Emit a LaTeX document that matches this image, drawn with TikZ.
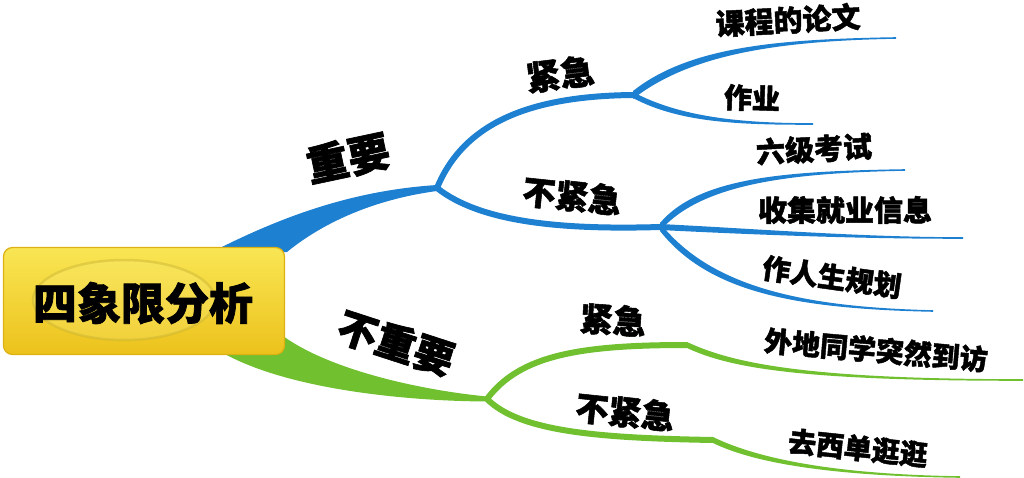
\documentclass[tikz,border=0pt]{standalone}
\usepackage{fontspec}
\setmainfont{Noto Sans CJK SC Bold}[FakeBold=1.6]
\definecolor{mblue}{RGB}{30,128,208}
\definecolor{mgreen}{RGB}{112,192,48}
\definecolor{ytop}{RGB}{249,230,84}
\definecolor{ybot}{RGB}{236,194,28}
\definecolor{boxedge}{RGB}{222,176,18}
\definecolor{ring}{RGB}{200,178,50}
\newcommand\taperline[6]{%
  \fill ([yshift=#5]#1) .. controls ([yshift=#5]#2) and ([yshift=#6]#3) .. ([yshift=#6]#4)
     -- ([yshift=-#6]#4) .. controls ([yshift=-#6]#3) and ([yshift=-#5]#2) .. ([yshift=-#5]#1) -- cycle;}
\tikzset{
  lbl/.style={font=\fontsize{#1}{#1}\bfseries\selectfont, inner sep=0pt, text=black},
  bbranch/.style={draw=mblue, line width=6pt},
  gbranch/.style={draw=mgreen, line width=6pt},
}
\begin{document}
\begin{tikzpicture}[x=1pt,y=-1pt]
\useasboundingbox (0,0) rectangle (1024,478);
% named points
\coordinate (J1) at (437,188);
\coordinate (J2) at (487,399);
\coordinate (K1) at (633,95);
\coordinate (K2) at (660,227);
\coordinate (G1) at (687,345);
\coordinate (G2) at (713,440);
\coordinate (E1) at (896,38);
\coordinate (E2) at (813,124);
\coordinate (E3) at (905,170);
\coordinate (E4) at (963,238);
\coordinate (E5) at (933,311);
\coordinate (E6) at (1023,380);
\coordinate (E7) at (960,477);
% main tapered branches
\fill[mblue] (212,252) .. controls (290,212) and (360,190) .. ([yshift=3pt]J1)
   -- ([yshift=-3pt]J1) .. controls (370,200) and (320,225) .. (287,252) -- cycle;
\fill[mgreen] (283,336) .. controls (330,370) and (420,390) .. ([yshift=2.5pt]J2)
   -- ([yshift=-2.5pt]J2) .. controls (400,401) and (280,388) .. (218,350) -- cycle;
% central box
\node (box) [draw=boxedge, line width=1.2pt, rounded corners=9pt, top color=ytop, bottom color=ybot,
  minimum width=281pt, minimum height=107pt, inner sep=0pt] at (144,301) {};
\fill[ytop!80!white, opacity=0.3] (124,300) ellipse [x radius=91pt, y radius=40pt];
\draw[ring, line width=2.5pt, opacity=0.45] (124,300) ellipse [x radius=91pt, y radius=40pt];
\node (root) [lbl=44] at (143,303) {四象限分析};
% second level branches
\draw[bbranch] (J1) .. controls (465,120) and (535,96) .. (K1);
\draw[bbranch] (J1) .. controls (480,222) and (560,230) .. (K2);
\draw[gbranch] (J2) .. controls (520,355) and (580,345) .. (G1);
\draw[gbranch] (J2) .. controls (520,432) and (600,438) .. (G2);
% third level tapered branches
\begin{scope}[fill=mblue]
\taperline{K1}{690,50}{780,40}{E1}{4pt}{0.8pt}
\taperline{K1}{680,120}{740,124}{E2}{3pt}{0.8pt}
\taperline{K2}{700,180}{790,172}{E3}{4pt}{0.8pt}
\taperline{K2}{760,232}{860,238}{E4}{3pt}{0.8pt}
\taperline{K2}{710,290}{800,308}{E5}{4pt}{0.8pt}
\end{scope}
\begin{scope}[fill=mgreen]
\taperline{G1}{730,365}{800,380}{E6}{3pt}{0.8pt}
\taperline{G2}{750,458}{820,475}{E7}{3pt}{0.8pt}
\end{scope}
% labels
\node (imp) [lbl=42, rotate=12] at (348,158) {重要};
\node (nimp) [lbl=40, rotate=-18] at (396,343) {不重要};
\node (bu) [lbl=34, rotate=7] at (560,74) {紧急};
\node (bnu) [lbl=33, rotate=-6] at (572,196) {不紧急};
\node (gu) [lbl=33, rotate=-4] at (613,320) {紧急};
\node (gnu) [lbl=33, rotate=-6] at (625,412) {不紧急};
\node (t1) [lbl=29, rotate=3] at (788,20) {课程的论文};
\node (t2) [lbl=28, rotate=-2] at (752,98) {作业};
\node (t3) [lbl=29, rotate=3] at (814,149) {六级考试};
\node (t4) [lbl=29] at (845,210) {收集就业信息};
\node (t5) [lbl=28, rotate=-8] at (832,277) {作人生规划};
\node (t6) [lbl=28, rotate=-5] at (876,350) {外地同学突然到访};
\node (t7) [lbl=28, rotate=-6] at (858,448) {去西单逛逛};
\end{tikzpicture}
\end{document}
